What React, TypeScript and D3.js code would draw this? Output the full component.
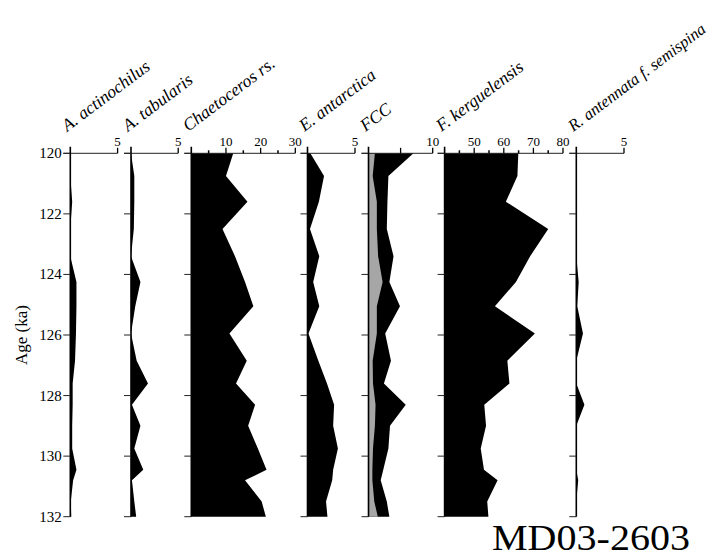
import React from "react";
import * as d3 from "d3";

const AGES = [120.0, 120.75, 121.6, 122.5, 123.4, 124.25, 125.05, 125.95, 126.85, 127.6, 128.3, 129.0, 129.75, 130.45, 130.8, 131.5, 132.0];
const A_ACTINOCHILUS = [0, 0, 0.2, 0, 0, 0.65, 0.65, 0.6, 0.5, 0.25, 0.25, 0.2, 0.2, 0.65, 0.3, 0.05, 0.1];
const A_TABULARIS = [0, 0.35, 0.35, 0.3, 0, 1.0, 0.45, 0, 0.6, 1.8, 0.1, 1.0, 0.35, 1.3, 0.1, 0.35, 0.55];
const CHAETOCEROS = [12.1, 10.0, 16.2, 9.0, 12.6, 15.5, 17.9, 11.0, 16.0, 12.9, 18.4, 16.4, 19.2, 21.7, 15.5, 20.3, 21.5];
const E_ANTARCTICA = [0.3, 1.74, 1.2, 0.26, 1.24, 0.6, 1.24, 0.1, 1.14, 2.05, 2.8, 2.7, 3.2, 2.7, 2.6, 1.95, 2.1];
const FCC_TOTAL = [7.0, 3.1, 2.95, 2.85, 3.9, 3.25, 4.9, 2.6, 3.5, 2.4, 5.8, 3.35, 3.1, 2.3, 1.9, 2.85, 3.25];
const FCC_GREY = [1.0, 0.65, 1.3, 1.3, 1.5, 2.2, 1.3, 1.3, 0.65, 0.7, 1.1, 1.0, 0.7, 0.6, 0.6, 0.9, 1.45];
const F_KERGUELENSIS = [64.9, 64.6, 60.7, 75.0, 68.9, 64.1, 57.0, 70.5, 61.2, 61.9, 53.4, 54.0, 52.2, 53.3, 57.9, 54.4, 54.8];
const R_ANTENNATA = [0, 0, 0, 0, 0, 0.25, 0.1, 0.7, 0, 0, 0.85, 0, 0, 0, 0.2, 0, 0];

const AGE_TICKS = [120, 122, 124, 126, 128, 130, 132];
const TAXA = ["A. actinochilus", "A. tabularis", "Chaetoceros rs.", "E. antarctica", "FCC", "F. kerguelensis", "R. antennata f. semispina"];

const FONT = "'Liberation Serif', 'DejaVu Serif', serif";

const y = d3.scaleLinear().domain([120, 132]).range([153.3, 516.7]);

type Panel = {
  name: string;
  range: [number, number];
  domain: [number, number];
  major: number[];
  labeled: number[];
  minor: number[];
  values: number[];
  grey?: number[];
  labelSize: number;
};

const panels: Panel[] = [
  { name: TAXA[0], range: [70.3, 117.6], domain: [0, 5], major: [5], labeled: [5], minor: [], values: A_ACTINOCHILUS, labelSize: 17.5 },
  { name: TAXA[1], range: [131, 178.2], domain: [0, 5], major: [5], labeled: [5], minor: [], values: A_TABULARIS, labelSize: 17.5 },
  { name: TAXA[2], range: [191.3, 295.3], domain: [0, 30], major: [10, 20, 30], labeled: [10, 20, 30], minor: [5, 15, 25], values: CHAETOCEROS, labelSize: 17.5 },
  { name: TAXA[3], range: [307.5, 355], domain: [0, 5], major: [5], labeled: [5], minor: [], values: E_ANTARCTICA, labelSize: 17.5 },
  { name: TAXA[4], range: [368.5, 432.7], domain: [0, 10], major: [5, 10], labeled: [10], minor: [], values: FCC_TOTAL, grey: FCC_GREY, labelSize: 17.5 },
  { name: TAXA[5], range: [444.6, 563], domain: [40, 80], major: [50, 60, 70, 80], labeled: [50, 60, 70, 80], minor: [45, 55, 65, 75], values: F_KERGUELENSIS, labelSize: 17.5 },
  { name: TAXA[6], range: [576.3, 624], domain: [0, 5], major: [5], labeled: [5], minor: [], values: R_ANTENNATA, labelSize: 16.5 },
];

function PanelView({ p, first }: { p: Panel; first: boolean }) {
  const x = d3.scaleLinear().domain(p.domain).range(p.range);
  const base = p.domain[0];
  const area = d3
    .area<number>()
    .y((_, i) => y(AGES[i]))
    .x0(() => x(base))
    .x1((d) => x(d));
  const x0 = x(base);
  const yTop = y(120);
  return (
    <g>
      <path d={area(p.values) || ""} fill="#000" />
      {p.grey && <path d={area(p.grey) || ""} fill="#a6a6a6" />}
      <line x1={x0 - 7} x2={x(p.domain[1])} y1={yTop} y2={yTop} stroke="#222" strokeWidth={1} />
      {p.major.map((t) => (
        <line key={"M" + t} x1={x(t)} x2={x(t)} y1={yTop} y2={yTop - 5.5} stroke="#000" strokeWidth={1.3} />
      ))}
      {p.minor.map((t) => (
        <line key={"m" + t} x1={x(t)} x2={x(t)} y1={yTop} y2={yTop - 3} stroke="#000" strokeWidth={1.5} />
      ))}
      {p.labeled.map((t) => (
        <text key={"L" + t} x={x(t)} y={yTop - 7} fontSize={13} fontFamily={FONT} textAnchor="middle" fill="#000">
          {t}
        </text>
      ))}
      <line x1={x0} x2={x0} y1={yTop - 6.5} y2={y(132)} stroke="#000" strokeWidth={1.6} />
      {AGE_TICKS.map((a) => (
        <line key={"a" + a} x1={x0 - 7} x2={x0} y1={y(a)} y2={y(a)} stroke="#222" strokeWidth={1} />
      ))}
      {first &&
        AGE_TICKS.map((a) => (
          <text key={"t" + a} x={x0 - 8.5} y={y(a)} dy="0.33em" fontSize={15} fontFamily={FONT} textAnchor="end" fill="#000">
            {a}
          </text>
        ))}
      <text
        transform={`translate(${x0 - 3},${132}) rotate(-37)`}
        fontSize={p.labelSize}
        fontStyle="italic"
        fontFamily={FONT}
        fill="#000"
      >
        {p.name}
      </text>
    </g>
  );
}

export default function App() {
  return (
    <svg
      width={715}
      height={558}
      viewBox="0 0 715 558"
      style={{ position: "absolute", left: 0, top: 0, background: "#fff" }}
    >
      <rect x={0} y={0} width={715} height={558} fill="#fff" />
      {panels.map((p, i) => (
        <PanelView key={p.name} p={p} first={i === 0} />
      ))}
      <text transform="translate(27,335) rotate(-90)" fontSize={17} fontFamily={FONT} textAnchor="middle" fill="#000">
        Age (ka)
      </text>
      <text
        x={492}
        y={550}
        fontSize={36}
        fontFamily={FONT}
        textLength={198}
        lengthAdjust="spacingAndGlyphs"
        fill="#000"
      >
        MD03-2603
      </text>
    </svg>
  );
}
